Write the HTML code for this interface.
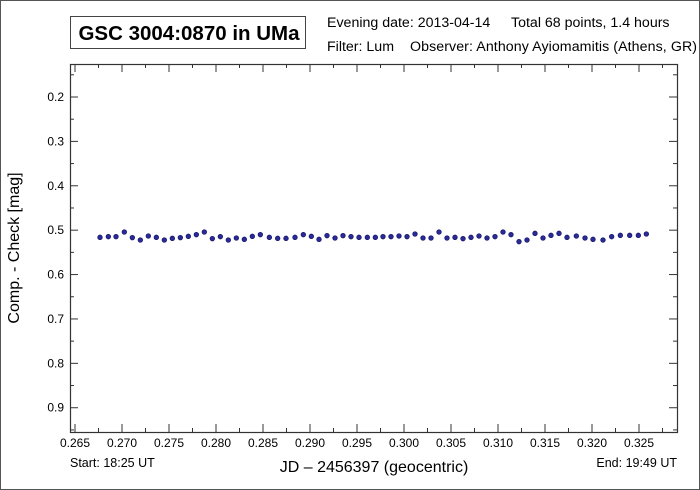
<!DOCTYPE html>
<html><head><meta charset="utf-8"><style>
html,body{margin:0;padding:0;background:#fff}
svg{display:block;font-family:"Liberation Sans",Arial,sans-serif}
</style></head><body>
<svg id="s" width="700" height="490" viewBox="0 0 700 490" xmlns="http://www.w3.org/2000/svg">
<rect x="0.5" y="0.5" width="699" height="489" fill="#fff" stroke="#555" stroke-width="1"/>
<rect x="70.5" y="16.5" width="235" height="32" fill="#fff" stroke="#444" stroke-width="1"/>
<text x="189" y="40" font-size="20.5" font-weight="bold" text-anchor="middle" fill="#000">GSC 3004:0870 in UMa</text>
<text x="327" y="27" font-size="14.2" fill="#000">Evening date: 2013-04-14</text>
<text x="511" y="27" font-size="14.2" fill="#000">Total 68 points, 1.4 hours</text>
<text x="327" y="51" font-size="14.2" fill="#000">Filter: Lum</text>
<text x="410" y="51" font-size="14.2" fill="#000" textLength="287">Observer: Anthony Ayiomamitis (Athens, GR)</text>
<g id="ax" stroke="#333" stroke-width="1" fill="none"></g>
<rect x="70.5" y="64.5" width="607" height="368" fill="none" stroke="#333" stroke-width="1.2"/>
<g id="lab" font-size="12" fill="#000"></g>
<g id="pts"></g>
<text x="19" y="248" font-size="16" text-anchor="middle" transform="rotate(-90 19 248)" fill="#000">Comp. - Check [mag]</text>
<text x="374" y="472" font-size="16" text-anchor="middle" fill="#000">JD – 2456397  (geocentric)</text>
<text x="70" y="467" font-size="12.5" fill="#000">Start: 18:25 UT</text>
<text x="677" y="467" font-size="12.5" text-anchor="end" fill="#000">End: 19:49 UT</text>
</svg>
<script>
var NS="http://www.w3.org/2000/svg";
function el(t,a,p,txt){var e=document.createElementNS(NS,t);for(var k in a)e.setAttribute(k,a[k]);if(txt)e.textContent=txt;document.getElementById(p).appendChild(e);}
for(var i=0;i<=25;i++){var v=0.265+i*0.0025;var x=75+(v-0.265)*9400;if(x>677)break;var L=(i%2==0)?8:4;
el('line',{x1:x,y1:432,x2:x,y2:432-L},'ax');el('line',{x1:x,y1:64,x2:x,y2:64+L},'ax');
if(i%2==0)el('text',{x:x,y:447,'text-anchor':'middle'},'lab',v.toFixed(3));}
for(var j=0;j<=20;j++){var m=0.15+j*0.05;var y=97+(m-0.2)*443.9;if(y<64||y>432)continue;var maj=(j%2==1);var L=maj?8:4;
el('line',{x1:70,y1:y,x2:70+L,y2:y},'ax');el('line',{x1:677,y1:y,x2:677-L,y2:y},'ax');
if(maj)el('text',{x:64,y:y+4,'text-anchor':'end'},'lab',m.toFixed(1));}
var a=[[60,67],[85,65],[108,65],[133,51],[157,68],[181,75],[205,63],[229,67],[253,75],[277,70],[301,68],[325,64],[349,59],[373,51],[397,71],[421,65],[445,75],[469,69],[493,73],[517,64],[541,59],[568,67],[593,70],[618,70],[645,67],[670,59],[694,64],[717,73],[741,62],[765,69],[789,62],[813,65],[837,67],[862,67],[886,67]];
var b=[[39,65],[63,65],[87,63],[111,65],[135,57],[159,69],[183,69],[207,51],[231,69],[255,67],[279,71],[303,67],[327,63],[351,69],[375,65],[399,51],[423,59],[447,80],[471,75],[495,55],[519,69],[543,61],[567,55],[591,67],[619,63],[645,69],[669,73],[699,75],[725,65],[751,61],[779,61],[805,61],[829,57]];
a.forEach(function(p){el('circle',{cx:80+p[0]/3,cy:215+p[1]/3,r:2.3,fill:'#2a2a9a',stroke:'#101060','stroke-width':0.7},'pts');});
b.forEach(function(p){el('circle',{cx:370+p[0]/3,cy:215+p[1]/3,r:2.3,fill:'#2a2a9a',stroke:'#101060','stroke-width':0.7},'pts');});
</script>
</body></html>
